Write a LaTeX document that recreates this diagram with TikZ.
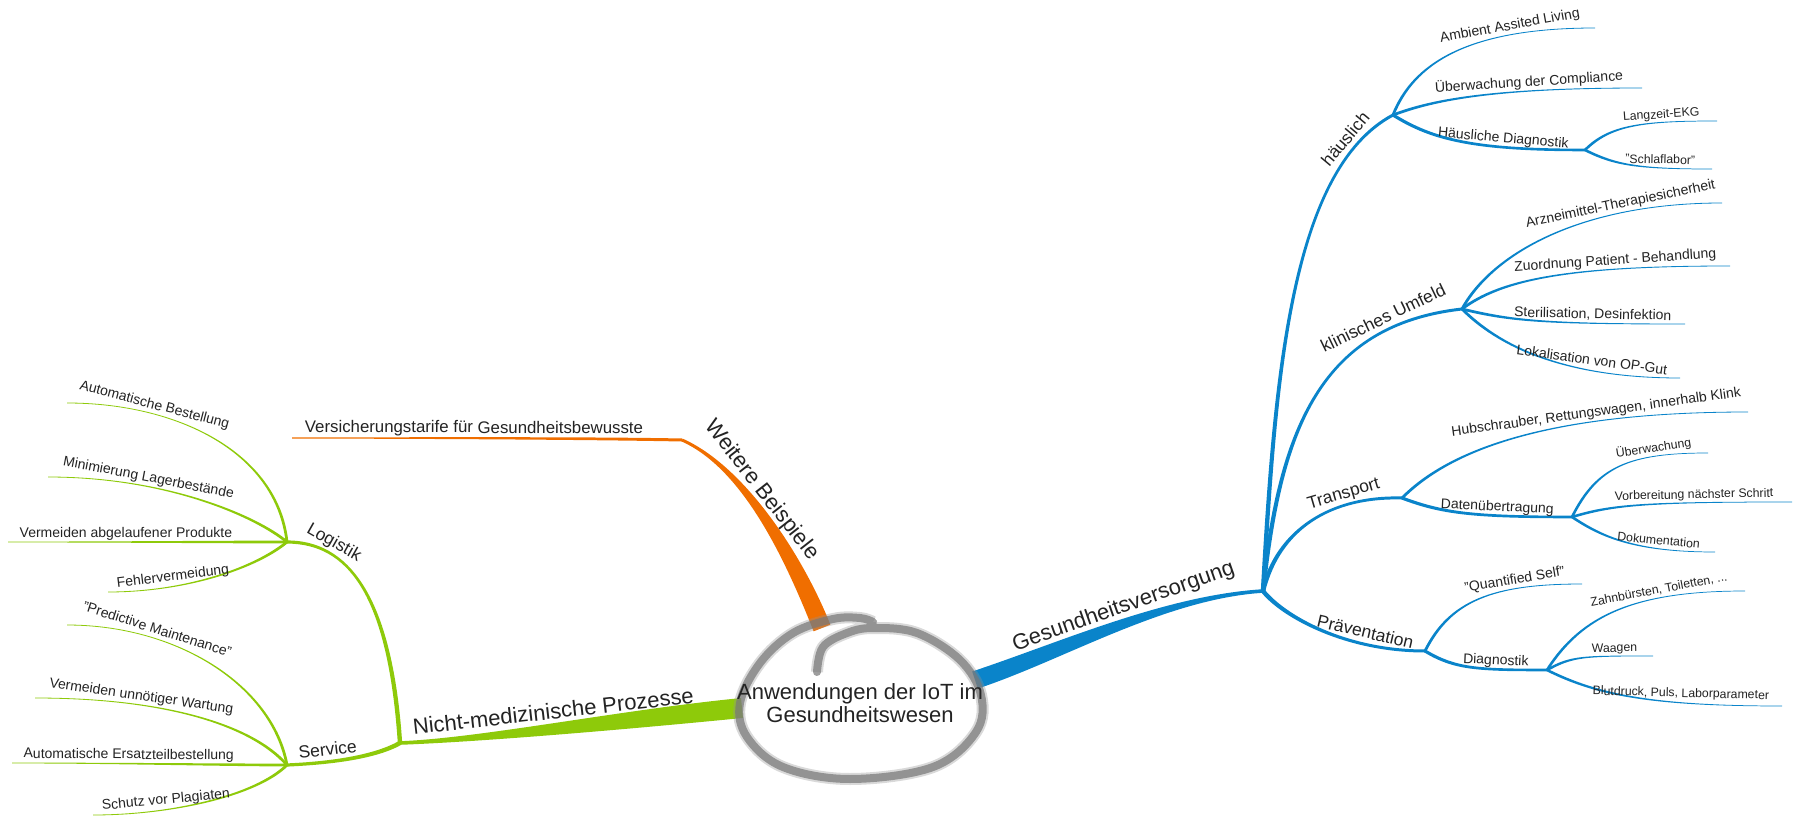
\documentclass[tikz,border=0pt]{standalone}
\usepackage{fontspec}
\setmainfont{Liberation Sans}
\usetikzlibrary{calc, shapes.geometric}
\definecolor{carebl}{RGB}{10,132,202}
\definecolor{procgr}{RGB}{142,202,10}
\definecolor{moreor}{RGB}{240,110,0}
\definecolor{brushgr}{RGB}{120,120,120}
\definecolor{inkgr}{RGB}{35,35,35}
\tikzset{
    lbl/.style={sloped, above, inner sep=0pt, text=inkgr, text height=0.75em, text depth=0.22em},
    mainlabel/.style={lbl, outer sep=8pt, font=\fontsize{22}{24}\selectfont},
    sublabel/.style={lbl, outer sep=4pt, font=\fontsize{17.5}{20}\selectfont},
    leaf/.style={lbl, outer sep=2.5pt, font=\fontsize{14}{16}\selectfont},
    smallleaf/.style={lbl, outer sep=2pt, font=\fontsize{12.3}{14}\selectfont},
    brush/.style={draw=brushgr, line width=8pt, line cap=round, line join=round, opacity=.72,
        preaction={draw=brushgr!80, line width=12pt, opacity=.35}}
}
% tapered branch: colour, from, start control (relative), end control (relative), to, half widths, label
\newcommand{\limb}[8]{%
    \path (#2) coordinate (l0) ($(#2)+(#3)$) coordinate (l1)
          ($(#5)+(#4)$) coordinate (l2) (#5) coordinate (l3);
    \path ($(l0)!#6!90:(l1)$) coordinate (u0) ($(l0)!#6!-90:(l1)$) coordinate (v0)
          ($(l3)!#7!-90:(l2)$) coordinate (u3) ($(l3)!#7!90:(l2)$) coordinate (v3);
    \fill[#1] (u0) .. controls ($(l1)+(u0)-(l0)$) and ($(l2)+(u3)-(l3)$) .. (u3)
          -- (v3) .. controls ($(l2)+(v3)-(l3)$) and ($(l1)+(v0)-(l0)$) .. (v0) -- cycle;
    \path (l0) .. controls (l1) and (l2) .. (l3) #8;
}
\begin{document}
\begin{tikzpicture}[x=1pt, y=-1pt]
    \useasboundingbox (0,0) rectangle (1800,829);

    % Junctions
    \coordinate (hub) at (860,703);
    \coordinate (careroot) at (975,680);
    \coordinate (procroot) at (742,708);
    \coordinate (moreroot) at (822,628);
    \coordinate (care) at (1263,591);
    \coordinate (home) at (1393,115);
    \coordinate (clinic) at (1462,309);
    \coordinate (transport) at (1402,498);
    \coordinate (prevent) at (1425,651);
    \coordinate (homediag) at (1585,150);
    \coordinate (datatx) at (1572,517);
    \coordinate (diag) at (1547,670);
    \coordinate (proc) at (400,743);
    \coordinate (logistics) at (287,542);
    \coordinate (service) at (287,765);
    \coordinate (more) at (682,440);

    % Leaf ends
    \coordinate (ambient) at (1595,28);
    \coordinate (compliance) at (1642,88);
    \coordinate (ekg) at (1717,121);
    \coordinate (sleep) at (1712,169);
    \coordinate (amts) at (1722,203);
    \coordinate (assign) at (1730,266);
    \coordinate (steril) at (1685,324);
    \coordinate (locate) at (1680,378);
    \coordinate (heli) at (1748,412);
    \coordinate (monitor) at (1708,453);
    \coordinate (prepare) at (1792,502);
    \coordinate (docu) at (1715,552);
    \coordinate (qself) at (1582,584);
    \coordinate (teeth) at (1745,591);
    \coordinate (scales) at (1653,656);
    \coordinate (blood) at (1782,706);
    \coordinate (order) at (67,403);
    \coordinate (stock) at (48,477);
    \coordinate (expire) at (8,542);
    \coordinate (errors) at (108,592);
    \coordinate (predict) at (67,625);
    \coordinate (maint) at (35,698);
    \coordinate (parts) at (12,763);
    \coordinate (fakes) at (93,815);
    \coordinate (tariffs) at (292,438);

    % Main branches
    \limb{carebl}{careroot}{85,-28}{-98,6}{care}{9pt}{1.8pt}{node[mainlabel, pos=.55] (tcare) {Gesundheitsversorgung}}
    \limb{procgr}{procroot}{-122,12}{80,-3}{proc}{10pt}{1.8pt}{node[mainlabel, pos=.5] (tproc) {Nicht-medizinische Prozesse}}
    \limb{moreor}{moreroot}{-27,-68}{63,28}{more}{9pt}{1.5pt}{node[mainlabel, outer sep=6pt, pos=.6] (tmore) {Weitere Beispiele}}
    \limb{moreor}{more}{-100,-2}{100,0}{tariffs}{1.5pt}{0.6pt}{node[sublabel, outer sep=3pt, pos=.53, font=\fontsize{16.8}{19}\selectfont] (ttariffs) {Versicherungstarife für Gesundheitsbewusste}}

    % Gesundheitsversorgung
    \limb{carebl}{care}{12,-211}{-103,55}{home}{2.2pt}{1.5pt}{node[sublabel, pos=.86] (thome) {häuslich}}
    \limb{carebl}{care}{17,-161}{-142,16}{clinic}{2.2pt}{1.5pt}{node[sublabel, pos=.8] (tclinic) {klinisches Umfeld}}
    \limb{carebl}{care}{15,-61}{-72,-2}{transport}{2.2pt}{1.5pt}{node[sublabel, pos=.72] (ttransport) {Transport}}
    \limb{carebl}{care}{20,25}{-80,0}{prevent}{2.2pt}{1.5pt}{node[sublabel, pos=.72] (tprevent) {Präventation}}

    \limb{carebl}{home}{20,-50}{-130,0}{ambient}{1.4pt}{0.4pt}{node[leaf, pos=.75] (tambient) {Ambient Assited Living}}
    \limb{carebl}{home}{40,-15}{-150,0}{compliance}{1.4pt}{0.4pt}{node[leaf, pos=.7] (tcompliance) {Überwachung der Compliance}}
    \limb{carebl}{home}{40,25}{-110,0}{homediag}{1.6pt}{1.3pt}{node[leaf, pos=.7] (thomediag) {Häusliche Diagnostik}}
    \limb{carebl}{homediag}{25,-25}{-75,0}{ekg}{1.3pt}{0.35pt}{node[smallleaf, pos=.71] (tekg) {Langzeit-EKG}}
    \limb{carebl}{homediag}{30,15}{-75,0}{sleep}{1.3pt}{0.35pt}{node[smallleaf, pos=.72, rotate=2] (tsleep) {"Schlaflabor"}}

    \limb{carebl}{clinic}{30,-55}{-142,0}{amts}{1.4pt}{0.4pt}{node[leaf, pos=.74] (tamts) {Arzneimittel-Therapiesicherheit}}
    \limb{carebl}{clinic}{40,-30}{-160,0}{assign}{1.4pt}{0.4pt}{node[leaf, pos=.72] (tassign) {Zuordnung Patient - Behandlung}}
    \limb{carebl}{clinic}{50,12}{-140,0}{steril}{1.4pt}{0.4pt}{node[leaf, pos=.73] (tsteril) {Sterilisation, Desinfektion}}
    \limb{carebl}{clinic}{35,35}{-120,0}{locate}{1.4pt}{0.4pt}{node[leaf, pos=.715, rotate=3, outer sep=3.5pt] (tlocate) {Lokalisation von OP-Gut}}

    \limb{carebl}{transport}{40,-40}{-220,0}{heli}{1.4pt}{0.4pt}{node[leaf, pos=.73] (theli) {Hubschrauber, Rettungswagen, innerhalb Klink}}
    \limb{carebl}{transport}{40,15}{-100,0}{datatx}{1.6pt}{1.3pt}{node[leaf, pos=.69] (tdatatx) {Datenübertragung}}
    \limb{carebl}{datatx}{25,-50}{-80,0}{monitor}{1.3pt}{0.35pt}{node[smallleaf, pos=.74] (tmonitor) {Überwachung}}
    \limb{carebl}{datatx}{40,-12}{-150,0}{prepare}{1.3pt}{0.35pt}{node[smallleaf, pos=.73] (tprepare) {Vorbereitung nächster Schritt}}
    \limb{carebl}{datatx}{30,20}{-80,0}{docu}{1.3pt}{0.35pt}{node[smallleaf, pos=.72, rotate=2] (tdocu) {Dokumentation}}

    \limb{carebl}{prevent}{25,-50}{-90,0}{qself}{1.4pt}{0.4pt}{node[leaf, pos=.715] (tqself) {"Quantified Self"}}
    \limb{carebl}{prevent}{30,18}{-70,0}{diag}{1.6pt}{1.3pt}{node[leaf, pos=.7] (tdiag) {Diagnostik}}
    \limb{carebl}{diag}{35,-55}{-110,0}{teeth}{1.3pt}{0.35pt}{node[smallleaf, pos=.7] (tteeth) {Zahnbürsten, Toiletten, ...}}
    \limb{carebl}{diag}{25,-14}{-70,0}{scales}{1.3pt}{0.35pt}{node[smallleaf, pos=.78] (tscales) {Waagen}}
    \limb{carebl}{diag}{50,25}{-130,0}{blood}{1.3pt}{0.35pt}{node[smallleaf, pos=.69, rotate=3, outer sep=3.5pt] (tblood) {Blutdruck, Puls, Laborparameter}}

    % Nicht-medizinische Prozesse
    \limb{procgr}{proc}{-10,-150}{60,0}{logistics}{2.2pt}{1.6pt}{node[sublabel, pos=.75] (tlogistics) {Logistik}}
    \limb{procgr}{proc}{-25,14}{45,-2}{service}{2.2pt}{1.6pt}{node[sublabel, pos=.68] (tservice) {Service}}

    \limb{procgr}{logistics}{-10,-90}{110,0}{order}{1.4pt}{0.4pt}{node[leaf, pos=.73] (torder) {Automatische Bestellung}}
    \limb{procgr}{logistics}{-30,-25}{120,0}{stock}{1.4pt}{0.4pt}{node[leaf, pos=.7] (tstock) {Minimierung Lagerbestände}}
    \limb{procgr}{logistics}{-60,0}{100,0}{expire}{1.4pt}{0.4pt}{node[leaf, pos=.62] (texpire) {Vermeiden abgelaufener Produkte}}
    \limb{procgr}{logistics}{-30,25}{80,0}{errors}{1.4pt}{0.4pt}{node[leaf, pos=.71, rotate=-3, outer sep=3.5pt] (terrors) {Fehlervermeidung}}

    \limb{procgr}{service}{-15,-80}{110,0}{predict}{1.4pt}{0.4pt}{node[leaf, pos=.72] (tpredict) {"Predictive Maintenance"}}
    \limb{procgr}{service}{-35,-40}{130,0}{maint}{1.4pt}{0.4pt}{node[leaf, pos=.7] (tmaint) {Vermeiden unnötiger Wartung}}
    \limb{procgr}{service}{-60,0}{100,0}{parts}{1.4pt}{0.4pt}{node[leaf, pos=.62] (tparts) {Automatische Ersatzteilbestellung}}
    \limb{procgr}{service}{-30,30}{80,0}{fakes}{1.4pt}{0.4pt}{node[leaf, pos=.69, rotate=-3, outer sep=3.5pt] (tfakes) {Schutz vor Plagiaten}}

    % Central brush ring
    \draw[brush, shift={(hub)}] plot[smooth, tension=.6] coordinates {
        (-43,-31) (-37,-56) (-13,-70) (13,-75) (57,-70) (100,-43) (121,-8) (116,29)
        (73,64) (-10,76) (-77,64) (-113,34) (-120,0) (-100,-40) (-67,-70) (-27,-84) (0,-85) (13,-81)};
    \node[ellipse, minimum width=240pt, minimum height=160pt, inner sep=0pt, align=center,
          text=inkgr, font=\fontsize{22}{23.5}\selectfont] (root) at (hub)
          {Anwendungen der IoT im\\Gesundheitswesen};
\end{tikzpicture}
\end{document}
